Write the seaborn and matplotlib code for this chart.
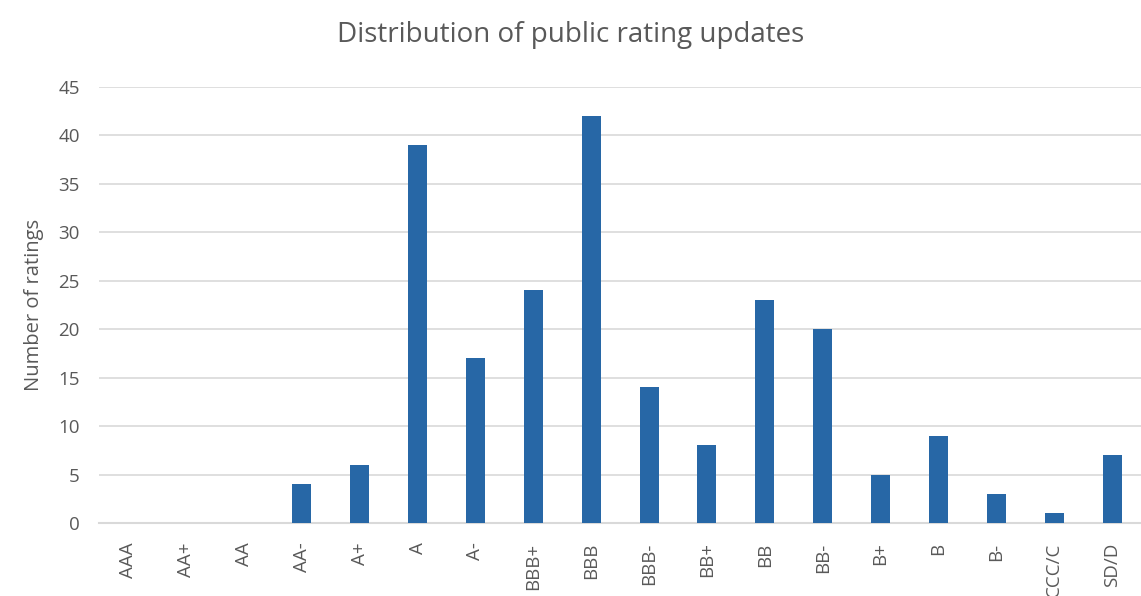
import matplotlib
matplotlib.use('Agg')
import matplotlib.pyplot as plt
import seaborn as sns
import pandas as pd

# Rating categories and counts
ratings = ['AAA', 'AA+', 'AA', 'AA-', 'A+', 'A', 'A-', 'BBB+', 'BBB', 'BBB-',
           'BB+', 'BB', 'BB-', 'B+', 'B', 'B-', 'CCC/C', 'SD/D']
counts = [0, 0, 0, 4, 6, 39, 17, 24, 42, 14, 8, 23, 20, 5, 9, 3, 1, 7]
yticks = [0, 5, 10, 15, 20, 25, 30, 35, 40, 45]

data = pd.DataFrame({'Rating': ratings, 'Count': counts})

sns.set_style('white')
plt.rcParams['font.family'] = ['Open Sans', 'DejaVu Sans']

fig = plt.figure(figsize=(11.41, 5.96), dpi=100)
ax = fig.add_axes([0.087, 0.1225, 0.913, 0.7315])

sns.barplot(data=data, x='Rating', y='Count', color='#2767A6', width=0.33,
            saturation=1, linewidth=0, ax=ax, zorder=3)

ax.set_ylim(0, 45)
ax.set_xlim(-0.5, len(ratings) - 0.5)
ax.set_yticks(yticks)
ax.yaxis.grid(True, color='#D9D9D9', linewidth=1.2, zorder=0)
ax.set_axisbelow(True)
for s in ['top', 'right', 'left']:
    ax.spines[s].set_visible(False)
ax.spines['bottom'].set_color('#D9D9D9')
ax.spines['bottom'].set_linewidth(1.5)

ax.tick_params(axis='both', length=0, colors='#595959', labelsize=13.5)
ax.tick_params(axis='y', pad=14)
ax.tick_params(axis='x', pad=14)
plt.setp(ax.get_xticklabels(), rotation=90, va='top')

ax.set_xlabel('')
ax.set_ylabel('Number of ratings', fontsize=14.5, color='#595959', labelpad=10)
fig.suptitle('Distribution of public rating updates', fontsize=20,
             color='#595959', y=0.965)

fig.savefig('out.png', dpi=100)
